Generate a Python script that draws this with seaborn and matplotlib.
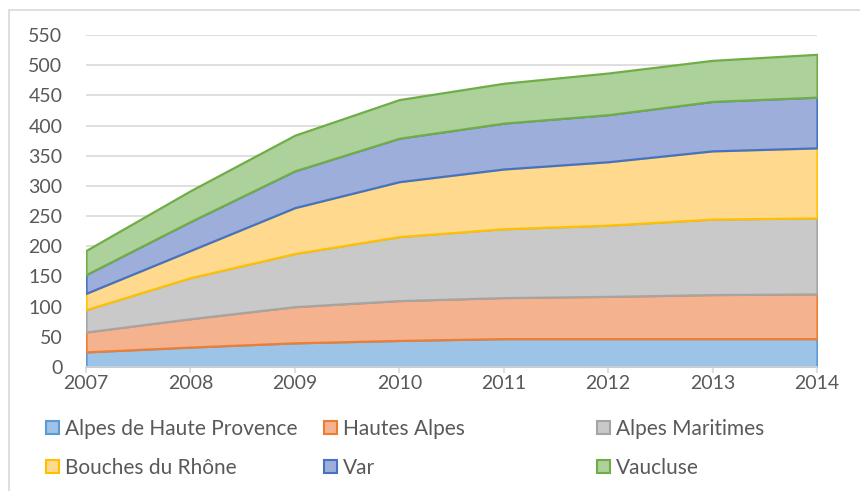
import matplotlib
matplotlib.use("Agg")
import matplotlib.pyplot as plt
from matplotlib.patches import Patch, Rectangle
import seaborn as sns

years = [2007, 2008, 2009, 2010, 2011, 2012, 2013, 2014]
alpes_haute_provence = [25, 33, 40, 44, 47, 47, 47, 47]
hautes_alpes = [33, 47, 60, 66, 68, 70, 73, 74]
alpes_maritimes = [37, 68, 88, 106, 114, 118, 125, 126]
bouches_du_rhone = [27, 45, 76, 91, 99, 105, 113, 116]
var = [31, 48, 61, 72, 76, 78, 82, 84]
vaucluse = [40, 51, 59, 64, 66, 69, 68, 71]

labels = ["Alpes de Haute Provence", "Hautes Alpes", "Alpes Maritimes",
          "Bouches du Rhône", "Var", "Vaucluse"]
series = [alpes_haute_provence, hautes_alpes, alpes_maritimes,
          bouches_du_rhone, var, vaucluse]
line_colors = ["#5B9BD5", "#ED7D31", "#A5A5A5", "#FFC000", "#4472C4", "#70AD47"]
fill_colors = ["#9DC3E6", "#F4B28F", "#C9C9C9", "#FFD98E", "#9EAEDB", "#ADD19A"]

sns.set_theme(style="white")
plt.rcParams['font.family'] = ['Lato', 'DejaVu Sans']
text_gray = "#595959"
grid_gray = "#D9D9D9"

fig = plt.figure(figsize=(8.6, 4.91), dpi=100)
ax = fig.add_axes([86 / 860, 1 - 367 / 491, (817 - 86) / 860, (367 - 35) / 491])

polys = ax.stackplot(years, *series, colors=fill_colors, labels=labels)
for p, lc in zip(polys, line_colors):
    p.set_edgecolor(lc)
    p.set_linewidth(1.6)

ax.set_xlim(2007, 2014)
ax.set_ylim(0, 550)
ax.set_yticks(range(0, 551, 50))
ax.set_xticks(years)
ax.yaxis.grid(True, color=grid_gray, linewidth=1.2)
ax.set_axisbelow(True)
for s in ["top", "right", "left"]:
    ax.spines[s].set_visible(False)
ax.spines["bottom"].set_color(grid_gray)
ax.spines["bottom"].set_linewidth(1.2)
ax.tick_params(axis="y", length=0, pad=17, labelsize=14, labelcolor=text_gray)
ax.tick_params(axis="x", length=4, width=1.2, color=grid_gray, pad=2,
               labelsize=14, labelcolor=text_gray, bottom=True)

# legend: three fixed-width columns like the spreadsheet
handles = [Patch(facecolor=f, edgecolor=l, linewidth=1.5) for f, l in zip(fill_colors, line_colors)]
col_x = [46, 324, 597]
for i, x in enumerate(col_x):
    idx = [i, i + 3]
    fig.legend([handles[j] for j in idx], [labels[j] for j in idx],
               loc="upper left", bbox_to_anchor=(x / 860, 1 - 419 / 491),
               frameon=False, fontsize=15, labelcolor=text_gray,
               handlelength=0.6, handleheight=0.6, handletextpad=0.3,
               labelspacing=0.9, borderpad=0, borderaxespad=0)

fig.patches.append(Rectangle((9 / 860, -0.1), 1.2, 1 - 10 / 491 + 0.1,
                             transform=fig.transFigure, fill=False,
                             edgecolor=grid_gray, linewidth=1.2))

fig.savefig("out.png", dpi=100)
